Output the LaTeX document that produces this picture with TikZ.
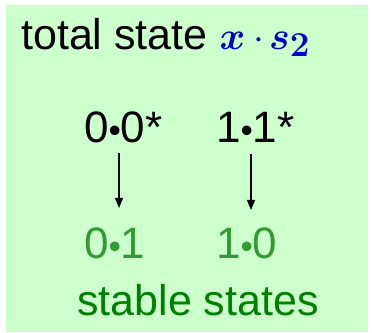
\documentclass[tikz,border=0pt]{standalone}
\usepackage{fix-cm}
\usepackage{fontspec}
\usepackage{amsmath}
\setmainfont{Liberation Sans}
\usetikzlibrary{arrows.meta}
\definecolor{bgreen}{HTML}{CCFFCC}
\definecolor{mblue}{HTML}{0000CC}
\definecolor{lgreen}{HTML}{339933}
\definecolor{dgreen}{HTML}{008000}
\newcommand{\smbul}{\scalebox{0.8}{•}}
\begin{document}
\begin{tikzpicture}[x=1pt,y=1pt,
  txt/.style={inner sep=0pt,anchor=base west,font=\fontsize{44}{50}\selectfont},
  arr/.style={line width=1.2pt,-{Triangle[length=10pt,width=8pt]}}]
\useasboundingbox (0,0) rectangle (372,332);
\fill[bgreen] (6,0) rectangle (368,327);
\node[txt,font=\fontsize{43}{50}\selectfont] (title) at (21,282) {total state \textcolor{mblue}{{\fontsize{39}{44}\selectfont$\boldsymbol{x}\cdot\mskip-2mu \boldsymbol{s}$}\raisebox{-7pt}{\fontsize{35}{40}\selectfont$\boldsymbol{2}$}}};
\node[txt] (a00) at (84,189) {0\smbul0*};
\node[txt] (a11) at (216,189) {1\smbul1*};
\node[txt,text=lgreen] (b01) at (84,74) {0\smbul1};
\node[txt,text=lgreen] (b10) at (216,74) {1\smbul0};
\node[txt,font=\fontsize{43}{50}\selectfont,text=dgreen] (stable) at (77,17) {stable states};
\coordinate (s1) at (119,179);
\coordinate (e1) at (119,124);
\coordinate (s2) at (251,178);
\coordinate (e2) at (251,122);
\draw[arr] (s1) -- (e1);
\draw[arr] (s2) -- (e2);
\end{tikzpicture}
\end{document}
